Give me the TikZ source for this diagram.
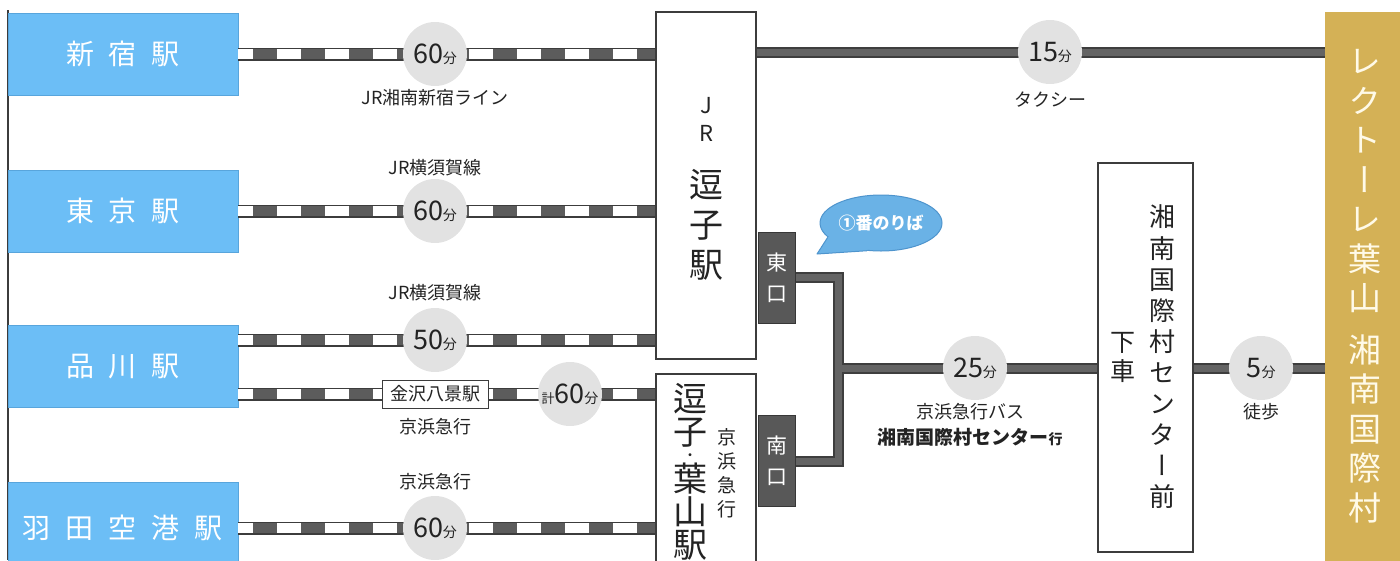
\documentclass[tikz,border=0pt]{standalone}
\usepackage{fontspec}
\setmainfont{Noto Sans CJK JP}
\newfontfamily\tate[RawFeature=+vert]{Noto Sans CJK JP}
\usetikzlibrary{shapes.geometric}
\definecolor{stationblue}{RGB}{108,190,246}
\definecolor{stationedge}{RGB}{88,165,220}
\definecolor{goldbar}{RGB}{212,177,86}
\definecolor{goldtext}{RGB}{255,250,232}
\definecolor{circlegray}{RGB}{226,226,226}
\definecolor{railedge}{RGB}{60,60,60}
\definecolor{raildark}{RGB}{92,92,92}
\definecolor{roadedge}{RGB}{62,62,62}
\definecolor{roadfill}{RGB}{100,100,100}
\definecolor{exitgray}{RGB}{88,88,88}
\definecolor{exitedge}{RGB}{55,55,55}
\definecolor{frame}{RGB}{60,60,60}
\definecolor{ink}{RGB}{35,35,35}
\definecolor{bubblefill}{RGB}{106,178,230}
\definecolor{bubbleedge}{RGB}{78,148,205}
\newcommand\mins[1]{{\fontsize{27}{27}\selectfont #1}{\fontsize{14}{14}\selectfont 分}}
\begin{document}
\begin{tikzpicture}[x=1pt,y=-1pt,
  station/.style={fill=stationblue,draw=stationedge,minimum width=230pt,minimum height=82pt,
                  text=white,font=\fontsize{28}{28}\selectfont},
  hall/.style={draw=frame,line width=1.2pt,fill=white,minimum width=100pt},
  exitbox/.style={fill=exitgray,draw=exitedge,line width=1pt,minimum width=37pt,minimum height=91pt,
                  text=white,align=center,font=\tate\fontsize{21}{31}\selectfont},
  timebox/.style={circle,fill=circlegray,minimum size=64pt,inner sep=0pt,text=ink},
  via/.style={text=ink,font=\fontsize{18}{18}\selectfont,inner sep=0pt},
  tatetext/.style={align=center,inner sep=0pt,text=ink},
  rail/.style={draw=railedge,line width=13pt,postaction={draw=white,line width=10pt},
               postaction={draw=raildark,line width=10pt,dash pattern=on 24pt off 24pt,dash phase=33pt}},
  road/.style={draw=roadedge,line width=11pt,postaction={draw=roadfill,line width=7pt}},
  bubble/.style={ellipse,fill=bubblefill,draw=bubbleedge,line width=1pt,
                 minimum width=122pt,minimum height=56pt,inner sep=0pt}]
\useasboundingbox (0,0) rectangle (1400,560);
\draw[frame,line width=1.5pt] (8,10) -- (8,560);

\node[station] (shinjuku) at (123,54) {新\hspace{15pt}宿\hspace{15pt}駅};
\node[station] (tokyo) at (123,211) {東\hspace{15pt}京\hspace{15pt}駅};
\node[station] (shinagawa) at (123,366.5) {品\hspace{15pt}川\hspace{15pt}駅};
\node[station,minimum height=92pt] (haneda) at (123,528) {羽\hspace{15pt}田\hspace{15pt}空\hspace{15pt}港\hspace{15pt}駅};

\node[hall,minimum height=347pt] (jr) at (706,185.5) {};
\node[hall,minimum height=200pt] (keikyu) at (706,474) {};
\node[hall,minimum width=95pt,minimum height=389pt] (shonan) at (1145.5,357.5) {};
\node[fill=goldbar,minimum width=75pt,minimum height=562pt,inner sep=0pt] (gold) at (1362.5,293) {};
\node[exitbox] (east) at (776.5,277.5) {東\\口};
\node[exitbox] (south) at (776.5,461) {南\\口};

\coordinate (jrline) at (435,340);
\coordinate (kkline) at (435,394);
\coordinate (taxi) at (1050,52);
\coordinate (jn) at (838,368);

\draw[rail] (shinjuku.east) -- (shinjuku.east -| jr.west);
\draw[rail] (tokyo.east) -- (tokyo.east -| jr.west);
\draw[rail] (shinagawa.east |- jrline) -- (jr.west |- jrline);
\draw[rail] (shinagawa.east |- kkline) -- (keikyu.west |- kkline);
\draw[rail] (haneda.east) -- (haneda.east -| keikyu.west);

\draw[road] (jr.east |- taxi) -- (gold.west |- taxi);
\draw[road] (east.east) -| (jn) |- (south.east) (jn) -- (jn -| shonan.west);
\draw[road] (shonan.east |- jn) -- (gold.west |- jn);

\node[timebox] (c1) at (435,54) {\mins{60}};
\node[timebox] (c2) at (435,211) {\mins{60}};
\node[timebox] (c3) at (435,340) {\mins{50}};
\node[timebox] (c4) at (570,394) {{\fontsize{13}{13}\selectfont 計}\mins{60}};
\node[timebox] (c5) at (435,528) {\mins{60}};
\node[timebox] (c6) at (taxi) {\mins{15}};
\node[timebox] (c7) at (975,368) {\mins{25}};
\node[timebox] (c8) at (1261,368) {\mins{5}};
\node[draw=frame,line width=1pt,fill=white,minimum width=106pt,minimum height=28pt,inner sep=0pt,
      text=ink,font=\fontsize{18}{18}\selectfont] (kanazawa) at (kkline) {金沢八景駅};

\node[via] (l1) at (435,98) {JR湘南新宿ライン};
\node[via] (l2) at (435,168) {JR横須賀線};
\node[via] (l3) at (435,293) {JR横須賀線};
\node[via] (l4) at (435,427) {京浜急行};
\node[via] (l5) at (435,482) {京浜急行};
\node[via] (l6) at (1050,100) {タクシー};
\node[via] (l7) at (970,412) {京浜急行バス};
\node[via,font=\bfseries\fontsize{19}{19}\selectfont] (l8) at (970,437) {湘南国際村センター{\fontsize{14}{14}\selectfont 行}};
\node[via] (l9) at (1261,412) {徒歩};

\node[tatetext,font=\fontsize{22}{28}\selectfont] (jrmark) at (706,119) {J\\R};
\node[tatetext,font=\tate\fontsize{34}{40}\selectfont] (jrname) at (706,225) {逗\\子\\駅};
\node[tatetext,font=\tate\fontsize{34}{33}\selectfont] (zushi) at (690,415) {逗\\子};
\node[tatetext,font=\fontsize{14}{14}\selectfont] (dot) at (690,457) {・};
\node[tatetext,font=\tate\fontsize{34}{33}\selectfont] (hayama) at (690,512) {葉\\山\\駅};
\node[tatetext,font=\tate\fontsize{19}{24}\selectfont] (kkline) at (727,473) {京\\浜\\急\\行};
\node[tatetext,font=\tate\fontsize{26}{31.1}\selectfont] (stop) at (1162,357) {湘\\南\\国\\際\\村\\セ\\ン\\タ\\ー\\前};
\node[tatetext,font=\tate\fontsize{25}{29}\selectfont] (getoff) at (1123,357.5) {下\\車};
\node[tatetext,text=goldtext,font=\tate\fontsize{33}{39.5}\selectfont] (goal) at (1365,286)
  {レ\\ク\\ト\\ー\\レ\\葉\\山\\[12pt]湘\\南\\国\\際\\村};

\node[bubble] (bub) at (881,223) {};
\fill[bubblefill] (bub.195) -- (817,254) -- (bub.243) -- (bub.center) -- cycle;
\draw[bubbleedge,line width=1pt,line join=round] (bub.195) -- (817,254) -- (bub.243);
\node[text=white,font=\bfseries\fontsize{17}{17}\selectfont] (bubtext) at (bub.center) {①番のりば};
\end{tikzpicture}
\end{document}
